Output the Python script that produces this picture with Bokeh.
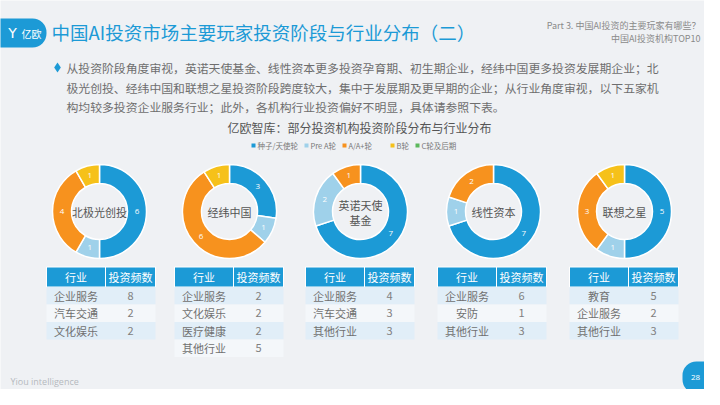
import math
from bokeh.plotting import figure
from bokeh.models import Range1d
from bokeh.core.properties import value
from bokeh.embed import file_html
from bokeh.resources import INLINE

# ---------------- data ----------------
title = "中国AI投资市场主要玩家投资阶段与行业分布（二）"
part_line1 = "Part 3. 中国AI投资的主要玩家有哪些？"
part_line2 = "中国AI投资机构TOP10"
para_lines = [
    "从投资阶段角度审视，英诺天使基金、线性资本更多投资孕育期、初生期企业，经纬中国更多投资发展期企业；北",
    "极光创投、经纬中国和联想之星投资阶段跨度较大，集中于发展期及更早期的企业；从行业角度审视，以下五家机",
    "构均较多投资企业服务行业；此外，各机构行业投资偏好不明显，具体请参照下表。",
]
chart_title = "亿欧智库：部分投资机构投资阶段分布与行业分布"
stages = ["种子/天使轮", "Pre A轮", "A/A+轮", "B轮", "C轮及后期"]
investors = ["北极光创投", "经纬中国", "英诺天使基金", "线性资本", "联想之星"]
center_labels = [["北极光创投"], ["经纬中国"], ["英诺天使", "基金"], ["线性资本"], ["联想之星"]]
seed = [6, 3, 7, 7, 5]
pre_a = [1, 1, 2, 1, 1]
a_round = [4, 6, 1, 2, 3]
b_round = [1, 1, 0, 0, 1]
c_round = [0, 0, 0, 0, 0]

table_header = ["行业", "投资频数"]
industries = [
    ["企业服务", "汽车交通", "文化娱乐"],
    ["企业服务", "文化娱乐", "医疗健康", "其他行业"],
    ["企业服务", "汽车交通", "其他行业"],
    ["企业服务", "安防", "其他行业"],
    ["教育", "企业服务", "其他行业"],
]
counts = [
    [8, 2, 2],
    [2, 2, 2, 5],
    [4, 3, 3],
    [6, 1, 3],
    [5, 2, 3],
]
footer = "Yiou intelligence"
page_no = "28"

# ---------------- style ----------------
BG = "#eff1f4"
BLUE = "#1c9ad6"
COLORS = ["#1c9ad6", "#9fd1ea", "#f7921e", "#f6c11a", "#5cb85c"]
FONT = value("Noto Sans CJK SC")
GRAY = "#6e6e6e"

def Y(v):
    return 405 - v

p = figure(width=704, height=389, x_range=Range1d(0, 704), y_range=Range1d(405 - 389, 405),
           output_backend="svg", toolbar_location=None, min_border=0,
           x_axis_type=None, y_axis_type=None,
           background_fill_color=BG, border_fill_color=BG, outline_line_color=None)
p.grid.visible = False

# header
p.quad(left=[-16], right=[46], top=[Y(18)], bottom=[Y(47)], fill_color=BLUE,
       line_color=None, border_radius=14)
p.text(x=[12], y=[Y(32)], text=["Y"], text_font=value("DejaVu Sans"), text_font_size="14px",
       text_color="white", text_align="center", text_baseline="middle")
p.text(x=[31], y=[Y(33)], text=["亿欧"], text_font=FONT, text_font_size="10px",
       text_color="white", text_align="center", text_baseline="middle")
p.text(x=[51], y=[Y(31)], text=[title], text_font=FONT, text_font_size="18.5px",
       text_color=BLUE, text_align="left", text_baseline="middle")
p.text(x=[700, 700], y=[Y(25), Y(38)], text=[part_line1, part_line2], text_font=FONT,
       text_font_size="9px", text_color="#8a8a8a", text_align="right", text_baseline="middle")

# paragraph
p.scatter(x=[57], y=[Y(67)], marker="diamond", size=10, fill_color=BLUE, line_color=None)
p.text(x=[66] * 3, y=[Y(67), Y(87), Y(106)], text=para_lines, text_font=FONT,
       text_font_size="11.85px", text_color=GRAY, text_align="left", text_baseline="middle")

# chart title & legend
p.text(x=[359], y=[Y(127)], text=[chart_title], text_font=FONT, text_font_size="12px",
       text_color="#555555", text_align="center", text_baseline="middle")
leg_x = [253, 306, 344, 392, 417]
p.scatter(x=leg_x, y=[Y(145)] * 5, marker="square", size=4, fill_color=COLORS, line_color=None)
p.text(x=[v + 4 for v in leg_x], y=[Y(145)] * 5, text=stages, text_font=FONT,
       text_font_size="7.5px", text_color="#777777", text_align="left", text_baseline="middle")

# donuts
cx_list = [99, 229, 360, 493, 624]
cy = Y(211)
R_OUT, R_IN = 47, 28
series = [seed, pre_a, a_round, b_round, c_round]
for i, cx in enumerate(cx_list):
    vals = [s[i] for s in series]
    total = sum(vals)
    cum = 0
    starts, ends, cols, lx, ly, lt = [], [], [], [], [], []
    for k, v in enumerate(vals):
        if v == 0:
            continue
        a0 = math.pi / 2 - 2 * math.pi * cum / total
        cum += v
        a1 = math.pi / 2 - 2 * math.pi * cum / total
        starts.append(a0)
        ends.append(a1)
        cols.append(COLORS[k])
        mid = (a0 + a1) / 2
        rm = (R_OUT + R_IN) / 2
        lx.append(cx + rm * math.cos(mid))
        ly.append(cy + rm * math.sin(mid))
        lt.append(str(v))
    n = len(starts)
    p.annular_wedge(x=[cx] * n, y=[cy] * n, inner_radius=R_IN, outer_radius=R_OUT,
                    start_angle=starts, end_angle=ends, direction="clock",
                    fill_color=cols, line_color="white", line_width=1.5)
    p.text(x=lx, y=ly, text=lt, text_font=value("Open Sans"), text_font_size="8px",
           text_color="#fdfdfd", text_align="center", text_baseline="middle")
    lines = center_labels[i]
    if len(lines) == 1:
        ys = [cy]
    else:
        ys = [cy + 7, cy - 8]
    p.text(x=[cx] * len(lines), y=ys, text=lines, text_font=FONT, text_font_size="11px",
           text_color="#555555", text_align="center", text_baseline="middle")

# tables
tab_left = [46, 174, 305, 437, 569]
C1, C2 = 59, 50
HEAD_TOP, HEAD_BOT = 266.5, 286.5
ROW_H = 17.5
for i, tl in enumerate(tab_left):
    p.quad(left=[tl, tl + C1], right=[tl + C1, tl + C1 + C2], top=[Y(HEAD_TOP)] * 2,
           bottom=[Y(HEAD_BOT)] * 2, fill_color=BLUE, line_color="white", line_width=1)
    p.text(x=[tl + C1 / 2, tl + C1 + C2 / 2], y=[Y((HEAD_TOP + HEAD_BOT) / 2)] * 2,
           text=table_header, text_font=FONT, text_font_size="11px", text_color="white",
           text_align="center", text_baseline="middle")
    rows = industries[i]
    nr = len(rows)
    tops = [HEAD_BOT + r * ROW_H for r in range(nr)]
    p.quad(left=[tl] * nr, right=[tl + C1 + C2] * nr, top=[Y(t) for t in tops],
           bottom=[Y(t + ROW_H) for t in tops],
           fill_color=["#e1eef8" if r % 2 == 0 else "#f4f7fa" for r in range(nr)],
           line_color=None)
    mids = [Y(t + ROW_H / 2) for t in tops]
    p.text(x=[tl + C1 / 2] * nr, y=mids, text=rows, text_font=FONT, text_font_size="11px",
           text_color="#707070", text_align="center", text_baseline="middle")
    p.text(x=[tl + C1 + C2 / 2] * nr, y=mids, text=[str(c) for c in counts[i]],
           text_font=FONT, text_font_size="11px", text_color="#808080",
           text_align="center", text_baseline="middle")

# footer
p.text(x=[10], y=[Y(381)], text=[footer], text_font=value("Open Sans"), text_font_size="9px",
       text_color="#b5b9be", text_align="left", text_baseline="middle")
p.quad(left=[682], right=[740], top=[Y(361)], bottom=[Y(393)], fill_color=BLUE,
       line_color=None, border_radius=14)
p.text(x=[695], y=[Y(377)], text=[page_no], text_font=value("Open Sans"), text_font_size="8px",
       text_color="white", text_align="center", text_baseline="middle")

open("out.html", "w").write(file_html(p, INLINE))
